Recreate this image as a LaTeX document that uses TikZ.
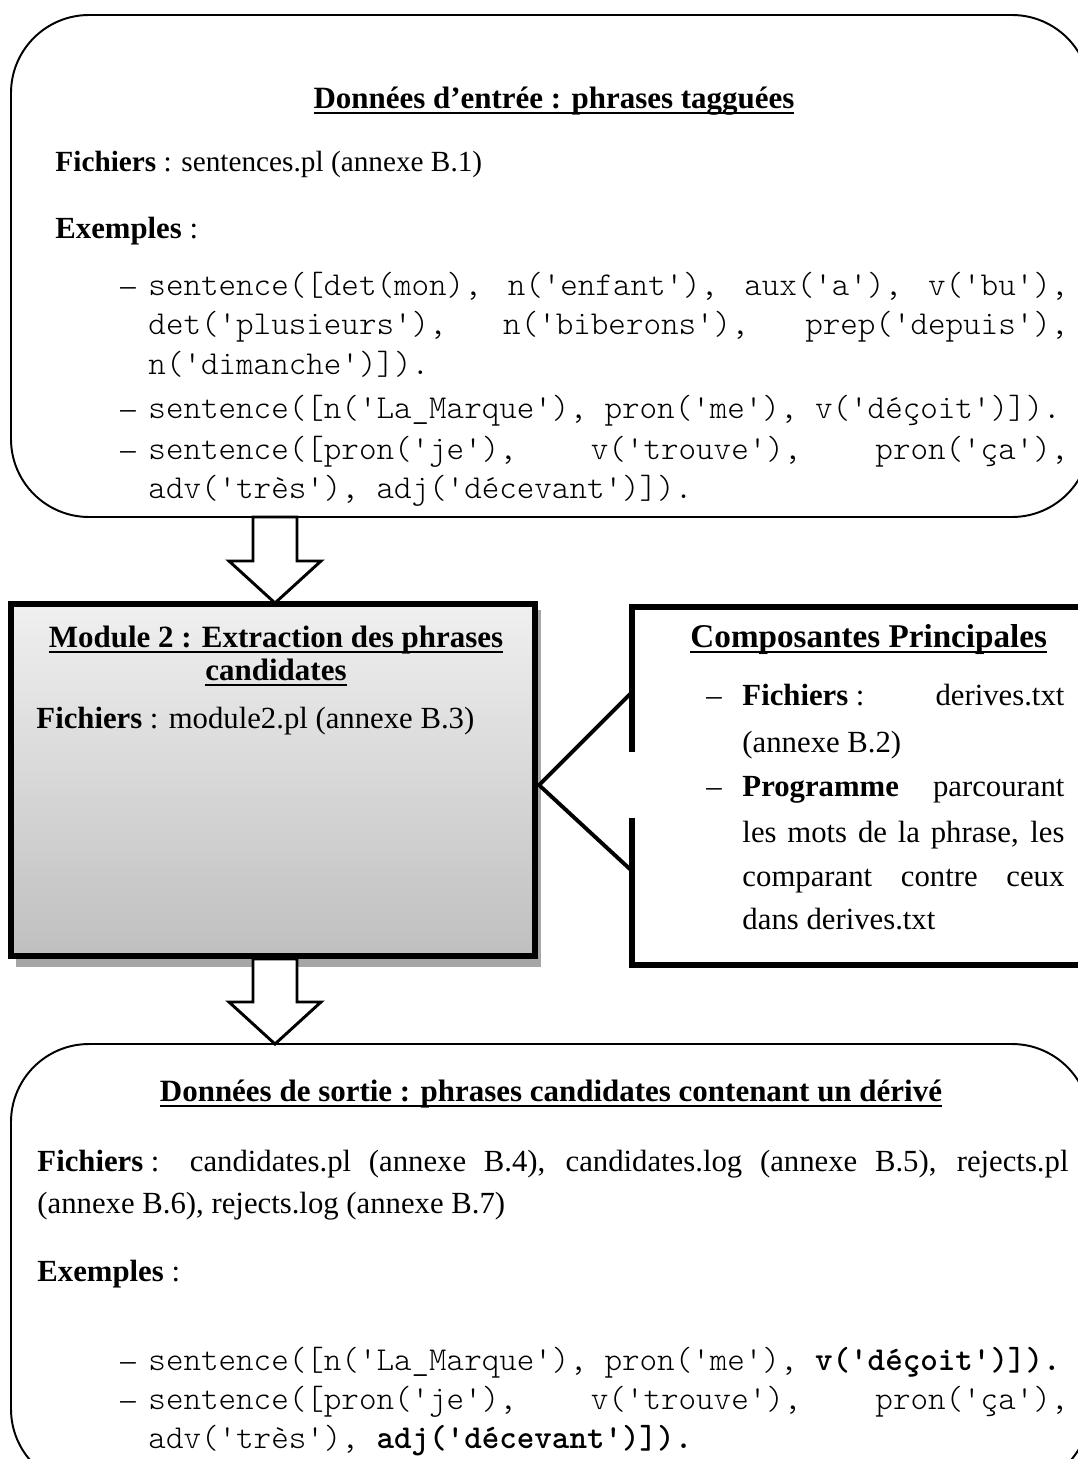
\documentclass[tikz,border=0pt]{standalone}
\usepackage{fontspec}
\setmainfont{Liberation Serif}
\setmonofont{lmmonolt10-regular}[Extension=.otf,BoldFont=lmmonolt10-bold]
\usetikzlibrary{calc}
\newcommand{\ulin}[1]{\setbox0\hbox{#1}\rlap{\rule[-2.4pt]{\wd0}{0.9pt}}\box0}
\newcommand{\colsp}{\hspace{0.25em}}

\begin{document}
\begin{tikzpicture}[x=0.41pt,y=-0.41pt,
    txt/.style={inner sep=0pt,anchor=base west,font=\fontsize{12.6}{14}\selectfont},
    head/.style={inner sep=0pt,anchor=base,font=\fontsize{12.7}{14}\selectfont\bfseries},
    code/.style={inner sep=0pt,anchor=base west,font=\fontsize{13.7}{15}\selectfont\ttfamily},
    bul/.style={inner sep=0pt,anchor=base west,font=\fontsize{12.6}{14}\selectfont},
    roundbox/.style={draw,line width=0.8pt,rounded corners=32pt},
    thickbox/.style={draw,line width=2.4pt},
    blockarr/.style={draw,fill=white,line width=1.2pt,miter limit=10},
    pointer/.style={draw,line width=1.6pt}]
  \def\cw{377.2pt}
  \def\fw{422.7pt}
  \def\pw{132pt}

  \useasboundingbox (0,0) rectangle (1078,1459);
  \clip (0,0) rectangle (1078,1459);

  % boite des donnees d'entree
  \draw[roundbox] (11,15) rectangle (1090,517);
  \node[head] (inhead) at (554,108) {\ulin{Données d’entrée : phrases tagguées}};
  \node[txt,font=\fontsize{12}{14}\selectfont] (infile) at (55,171) {\textbf{Fichiers}\colsp: sentences.pl (annexe B.1)};
  \node[txt] (inex) at (55,238) {\textbf{Exemples}\colsp:};
  \node[bul] (inb1) at (120,295) {–};
  \node[code] (inc1) at (148,295) {\makebox[\cw][l]{sentence([det(mon),\hfill n('enfant'),\hfill aux('a'),\hfill v('bu'),}};
  \node[code] (inc2) at (148,334) {\makebox[\cw][l]{det('plusieurs'),\hfill n('biberons'),\hfill prep('depuis'),}};
  \node[code] (inc3) at (148,374) {n('dimanche')]).};
  \node[bul] (inb2) at (120,418) {–};
  \node[code] (inc4) at (148,418) {sentence([n('La\_Marque'), pron('me'), v('déçoit')]).};
  \node[bul] (inb3) at (120,459) {–};
  \node[code] (inc5) at (148,459) {\makebox[\cw][l]{sentence([pron('je'),\hfill v('trouve'),\hfill pron('ça'),}};
  \node[code] (inc6) at (148,498) {adv('très'), adj('décevant')]).};

  % module 2
  \fill[black!35] (16,610) rectangle (541,967);
  \draw[thickbox,top color=black!6,bottom color=black!25] (11,604) rectangle (535,956);
  \node[head] (modhead) at (276,647) {\ulin{Module 2 : Extraction des phrases}};
  \node[head] (modhead2) at (276,680) {\ulin{candidates}};
  \node[txt] (modfile) at (36,728) {\textbf{Fichiers}\colsp: module2.pl (annexe B.3)};

  % composantes principales
  \coordinate (ptr) at (539,785);
  \draw[thickbox,line cap=rect] (632,749) -- (632,607) -- (1090,607) -- (1090,965) -- (632,965) -- (632,821);
  \draw[pointer] (632,692) -- (ptr) -- (632,871);
  \node[txt,font=\fontsize{13.6}{15}\selectfont\bfseries] (comphead) at (690,647) {\ulin{Composantes Principales}};
  \node[bul] (cb1) at (706,705) {–};
  \node[txt] (cl1) at (742,705) {\makebox[\pw][s]{\textbf{Fichiers}\colsp: derives.txt}};
  \node[txt] (cl2) at (742,752) {(annexe B.2)};
  \node[bul] (cb2) at (706,796) {–};
  \node[txt] (cl3) at (742,796) {\makebox[\pw][s]{\textbf{Programme} parcourant}};
  \node[txt] (cl4) at (742,842) {\makebox[\pw][s]{les mots de la phrase, les}};
  \node[txt] (cl5) at (742,886) {\makebox[\pw][s]{comparant contre ceux}};
  \node[txt] (cl6) at (742,929) {dans derives.txt};

  % donnees de sortie
  \draw[roundbox] (11,1044) rectangle (1090,1487);
  \node[head] (outhead) at (551,1101) {\ulin{Données de sortie : phrases candidates contenant un dérivé}};
  \node[txt] (outfile) at (37,1171) {\makebox[\fw][s]{\textbf{Fichiers}\colsp: candidates.pl (annexe B.4), candidates.log (annexe B.5), rejects.pl}};
  \node[txt] (outfile2) at (37,1213) {(annexe B.6), rejects.log (annexe B.7)};
  \node[txt] (outex) at (37,1281) {\textbf{Exemples}\colsp:};
  \node[bul] (outb1) at (120,1370) {–};
  \node[code] (outc1) at (148,1370) {sentence([n('La\_Marque'), pron('me'), \textbf{v('déçoit')]).}};
  \node[bul] (outb2) at (120,1409) {–};
  \node[code] (outc2) at (148,1409) {\makebox[\cw][l]{sentence([pron('je'),\hfill v('trouve'),\hfill pron('ça'),}};
  \node[code] (outc3) at (148,1448) {adv('très'), \textbf{adj('décevant')]).}};

  % fleches
  \coordinate (a1s) at (275,517);
  \coordinate (a1e) at (275,603);
  \draw[blockarr] ($(a1s)+(-22,0)$) -- ($(a1s)+(22,0)$) -- ($(a1e)+(22,-42)$) -- ($(a1e)+(46,-42)$)
    -- (a1e) -- ($(a1e)+(-46,-42)$) -- ($(a1e)+(-22,-42)$) -- cycle;
  \coordinate (a2s) at (275,959);
  \coordinate (a2e) at (275,1044);
  \draw[blockarr] ($(a2s)+(-22,0)$) -- ($(a2s)+(22,0)$) -- ($(a2e)+(22,-42)$) -- ($(a2e)+(46,-42)$)
    -- (a2e) -- ($(a2e)+(-46,-42)$) -- ($(a2e)+(-22,-42)$) -- cycle;
\end{tikzpicture}
\end{document}
